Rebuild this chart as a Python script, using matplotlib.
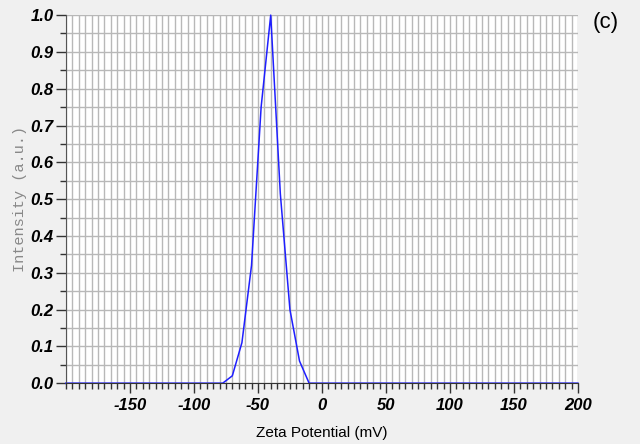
import matplotlib.pyplot as plt
from matplotlib.ticker import MultipleLocator

# zeta potential distribution
zeta_mv = [-200, -77.5, -70, -62.5, -55, -47.5, -40, -32.5, -25, -17.5, -10, 200]
intensity = [0.0, 0.0, 0.02, 0.11, 0.32, 0.75, 1.0, 0.515, 0.20, 0.06, 0.0, 0.0]

x_ticks = [-150, -100, -50, 0, 50, 100, 150, 200]
y_ticks = [0.0, 0.1, 0.2, 0.3, 0.4, 0.5, 0.6, 0.7, 0.8, 0.9, 1.0]

plt.rcParams["font.family"] = ["Liberation Sans", "DejaVu Sans"]
plt.rcParams["axes.unicode_minus"] = False

fig = plt.figure(figsize=(6.4, 4.44), dpi=100, facecolor="#f0f0f0")
ax = fig.add_axes([0.103, 0.137, 0.800, 0.829])
ax.set_facecolor("white")

ax.plot(zeta_mv, intensity, color="#1f1fff", linewidth=1.1, zorder=2.4, clip_on=False)

ax.set_xlim(-200, 200)
ax.set_ylim(0, 1.0)
ax.set_xticks(x_ticks)
ax.set_yticks(y_ticks)
ax.set_xticklabels([str(v) for v in x_ticks])
ax.set_yticklabels(["{0:.1f}".format(v) for v in y_ticks])
ax.xaxis.set_minor_locator(MultipleLocator(5))
ax.yaxis.set_minor_locator(MultipleLocator(0.05))

ax.grid(True, which="both", color="#b8b8b8", linewidth=1.0, zorder=0)
ax.set_axisbelow(True)

for side in ("top", "right"):
    ax.spines[side].set_visible(False)
ax.spines["left"].set_color("#555555")
ax.spines["bottom"].set_color("#333333")

ax.tick_params(axis="both", which="major", direction="out", length=7, width=1, colors="#333333")
ax.tick_params(axis="both", which="minor", direction="out", length=4, width=1, colors="#333333")
for lbl in ax.get_xticklabels() + ax.get_yticklabels():
    lbl.set_fontweight("bold")
    lbl.set_fontstyle("italic")
    lbl.set_fontsize(12)
    lbl.set_color("black")
ax.tick_params(axis="x", pad=4)
ax.tick_params(axis="y", pad=2)

ax.set_xlabel("Zeta Potential (mV)", fontsize=11)
ax.xaxis.set_label_coords(0.5, -0.117)
ax.set_ylabel("Intensity (a.u.)", fontsize=11, color="#888888",
              family=["Liberation Mono", "DejaVu Sans Mono"])
ax.yaxis.set_label_coords(-0.076, 0.5)

fig.text(0.947, 0.95, "(c)", fontsize=16, ha="center", va="center")

fig.savefig("out.png", dpi=100, facecolor=fig.get_facecolor())
